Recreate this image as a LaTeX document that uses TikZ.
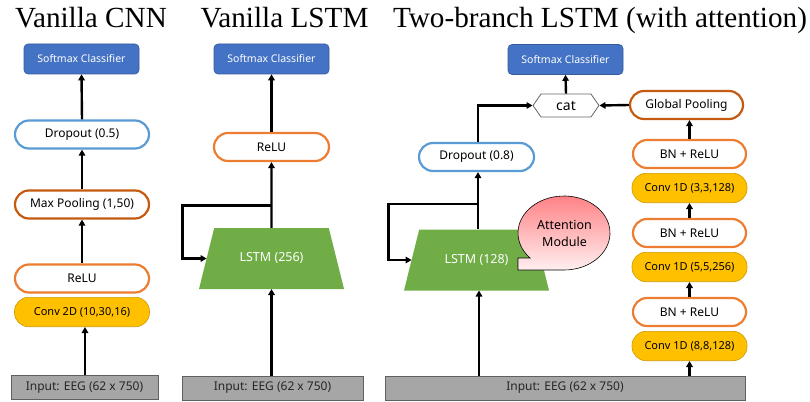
\documentclass[tikz,border=0pt]{standalone}
\usepackage{fontspec}
\setmainfont{Liberation Serif}
\newfontfamily\boxfont{Noto Sans}
\usetikzlibrary{arrows.meta,calc,shapes.geometric,shapes.symbols}
\definecolor{sftblue}{HTML}{4472C4}
\definecolor{dropblue}{HTML}{5B9BD5}
\definecolor{pooldark}{HTML}{C55A11}
\definecolor{reluorng}{HTML}{ED7D31}
\definecolor{convgold}{HTML}{FFC000}
\definecolor{lstmgreen}{HTML}{70AD47}
\definecolor{inpgray}{HTML}{A6A6A6}
\definecolor{attnred}{HTML}{FF7C80}
\tikzset{title/.style={anchor=base,font=\fontsize{29.2}{34}\selectfont},
  softmax/.style={draw=sftblue!80!black,line width=0.6pt,fill=sftblue,text=white,rounded corners=4pt,
    minimum width=115pt,minimum height=30pt,inner sep=0pt,font=\boxfont\fontsize{10.5}{12}\selectfont},
  pill/.style={draw,line width=2.2pt,fill=white,rounded corners=14pt,minimum height=28pt,inner sep=0pt,
    font=\boxfont\fontsize{12}{14}\selectfont},
  drop/.style={pill,draw=dropblue},
  pool/.style={pill,draw=pooldark},
  relu/.style={pill,draw=reluorng},
  conv/.style={pill,line width=0.6pt,draw=convgold!80!black,fill=convgold,minimum height=29.4pt,
    font=\boxfont\fontsize{11}{13}\selectfont},
  lstm/.style={trapezium,trapezium left angle=76,trapezium right angle=76,trapezium stretches body=true,
    fill=lstmgreen,text=white,text height=9.5pt,text depth=3pt,inner xsep=0pt,inner ysep=24.25pt,
    outer sep=0pt,font=\boxfont\fontsize{12.5}{14}\selectfont},
  inp/.style={draw=gray!75!black,line width=0.6pt,fill=inpgray,minimum height=24pt,inner sep=0pt,
    text=black!85,font=\boxfont\fontsize{12}{14}\selectfont},
  catbox/.style={signal,signal to=east and west,signal pointer angle=110,draw=gray!80!black,line width=0.8pt,
    fill=white,minimum width=66pt,minimum height=23pt,inner sep=0pt,font=\boxfont\fontsize{14}{16}\selectfont},
  arr/.style={-{Triangle[length=6pt,width=6.5pt]},line width=2.4pt}}
\begin{document}
\begin{tikzpicture}[x=1pt,y=-1pt]
\useasboundingbox (0,0) rectangle (810,401);
% titles
\node[title] (tA) at (91,28) {Vanilla CNN};
\node[title] (tB) at (284.5,28) {Vanilla LSTM};
\node[title] (tC) at (600,28) {Two-branch LSTM (with attention)};

% vanilla CNN
\node[inp,minimum width=147pt] (inA) at (84.5,387.5) {Input: EEG (62 x 750)};
\node[conv,minimum width=135pt] (convA) at (82,312) {Conv 2D (10,30,16)};
\node[relu,minimum width=134pt] (reluA) at (82,278.5) {ReLU};
\node[pool,minimum width=134pt] (poolA) at (82,204.5) {Max Pooling (1,50)};
\node[drop,minimum width=134pt] (dropA) at (82,134.5) {Dropout (0.5)};
\node[softmax] (smA) at (81.5,59) {Softmax Classifier};
\draw[arr] (inA.north -| 85,0) -- (convA.south -| 85,0);
\foreach \a/\b in {reluA/poolA,poolA/dropA,dropA/smA}{\draw[arr] (\a.north) -- (\b.south);}

% vanilla LSTM
\node[inp,minimum width=181pt] (inB) at (272.5,388) {Input: EEG (62 x 750)};
\node[lstm,minimum width=145pt] (lstmB) at (271.5,258.5) {LSTM (256)};
\node[relu,minimum width=115pt] (reluB) at (271.5,147) {ReLU};
\node[softmax] (smB) at (271.5,59) {Softmax Classifier};
\coordinate (jB) at (272,205.5);
\draw[arr] (inB.north -| lstmB.south) -- (lstmB.south);
\draw[arr] (lstmB.north) -- (reluB.south);
\draw[arr] (jB) -| ([xshift=-24pt]lstmB.west) -- (lstmB.west);
\draw[arr] (reluB.north) -- (smB.south);

% two-branch LSTM
\node[inp,minimum width=360pt] (inC) at (565,388) {Input: EEG (62 x 750)};
\node[lstm,minimum width=145pt] (lstmC) at (476.5,260) {LSTM (128)};
\node[drop,minimum width=115pt] (dropC) at (476.5,157) {Dropout (0.8)};
\node[catbox] (cat) at (566,105.5) {cat};
\node[softmax] (smC) at (565.5,59.5) {Softmax Classifier};
\node[conv,minimum width=115pt] (cv1) at (689.5,346) {Conv 1D (8,8,128)};
\node[relu,minimum width=113pt] (bn1) at (689.5,312) {BN + ReLU};
\node[conv,minimum width=115pt] (cv2) at (689.5,267) {Conv 1D (5,5,256)};
\node[relu,minimum width=113pt] (bn2) at (689.5,233) {BN + ReLU};
\node[conv,minimum width=115pt] (cv3) at (689.5,188) {Conv 1D (3,3,128)};
\node[relu,minimum width=113pt] (bn3) at (689.5,154) {BN + ReLU};
\node[pool,minimum width=113pt] (gpool) at (686.5,105) {Global Pooling};
\coordinate (jC) at (478,204);
\draw[arr] (inC.north -| 479,0) -- (lstmC.south -| 479,0);
\draw[arr] (lstmC.north -| 478,0) -- (dropC.south -| 478,0);
\draw[arr] (jC) -| ([xshift=-23pt]lstmC.west) -- (lstmC.west);
\draw[arr] (dropC.north -| 478,0) |- (cat.west);
\draw[arr] (gpool.west) -- (cat.east);
\draw[arr] (cat.north) -- (smC.south);
\draw[arr] (inC.north -| cv1.south) -- (cv1.south);
\foreach \a/\b in {bn1/cv2,bn2/cv3}{\draw[arr] (\a.north) -- (\b.south);}
\draw[arr] (bn3.north -| 689.5,0) -- (gpool.south -| 689.5,0);

% attention bubble on the LSTM
\path[draw=black,line width=0.6pt,top color=attnred,bottom color=attnred!12]
  (518,258) -- (530.08,258) arc[start angle=137.5,end angle=450,x radius=46,y radius=37] -- (518,270) -- cycle;
\node[align=center,font=\boxfont\fontsize{12.5}{17}\selectfont] (attn) at (564.5,233) {Attention\\Module};
\end{tikzpicture}
\end{document}
